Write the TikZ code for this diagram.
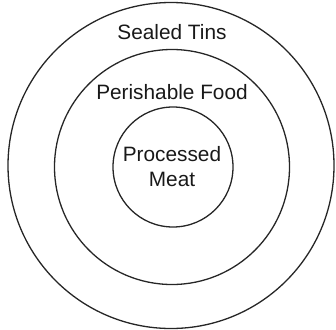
\documentclass[tikz,border=0pt]{standalone}
\usepackage{fontspec}
\setmainfont{Liberation Sans}
\begin{document}
\begin{tikzpicture}[x=1pt,y=-1pt,
  ring/.style={draw=black!85, line width=1.3pt, circle, inner sep=0pt},
  lbl/.style={font=\fontsize{20.8}{25}\selectfont, text=black!90, inner sep=0pt, align=center}]
\useasboundingbox (0,0) rectangle (336,329);
\node[ring, minimum size=326pt] (outer) at (171,165.5) {};
\node[ring, minimum size=235pt] (middle) at (172,167) {};
\node[ring, minimum size=120pt] (inner) at (173,167) {};
\node[lbl] (sealed) at (172,32) {Sealed Tins};
\node[lbl] (perish) at (172,92) {Perishable Food};
\node[lbl] (meat) at (172,167) {Processed\\Meat};
\end{tikzpicture}
\end{document}
